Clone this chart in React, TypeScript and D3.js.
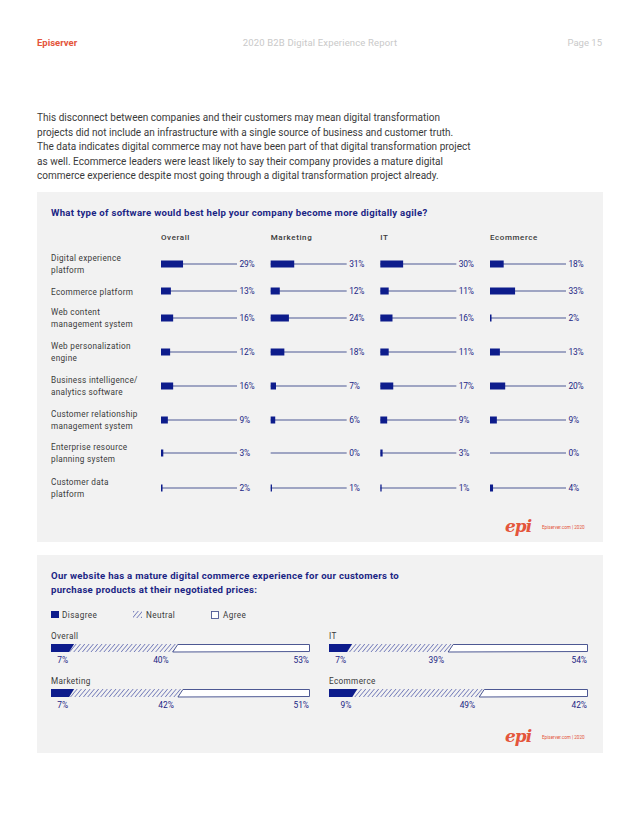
import React from "react";
import * as d3 from "d3";

// ---------- DATA ----------
const categories = [
  "Digital experience\nplatform",
  "Ecommerce platform",
  "Web content\nmanagement system",
  "Web personalization\nengine",
  "Business intelligence/\nanalytics software",
  "Customer relationship\nmanagement system",
  "Enterprise resource\nplanning system",
  "Customer data\nplatform",
];
const segments = ["Overall", "Marketing", "IT", "Ecommerce"];
const overallValues = [29, 13, 16, 12, 16, 9, 3, 2];
const marketingValues = [31, 12, 24, 18, 7, 6, 0, 1];
const itValues = [30, 11, 16, 11, 17, 9, 3, 1];
const ecommerceValues = [18, 33, 2, 13, 20, 9, 0, 4];
const seriesValues = [overallValues, marketingValues, itValues, ecommerceValues];

const matureGroups = ["Overall", "IT", "Marketing", "Ecommerce"];
const disagreeValues = [7, 7, 7, 9];
const neutralValues = [40, 39, 42, 49];
const agreeValues = [53, 54, 51, 42];
const legendLabels = ["Disagree", "Neutral", "Agree"];

const paragraph = [
  "This disconnect between companies and their customers may mean digital transformation",
  "projects did not include an infrastructure with a single source of business and customer truth.",
  "The data indicates digital commerce may not have been part of that digital transformation project",
  "as well. Ecommerce leaders were least likely to say their company provides a mature digital",
  "commerce experience despite most going through a digital transformation project already.",
];

// ---------- STYLE ----------
const NAVY = "#0d1c8c";
const NAVY_TEXT = "#1b2584";
const LINE = "#4d5893";
const GRAY_TEXT = "#3a3a3a";
const PANEL = "#f2f2f2";
const RED = "#e4553b";
const FONT = "Roboto, 'Noto Sans', sans-serif";

function Logo({ x, y }: { x: number; y: number }) {
  return (
    <g>
      <text x={x} y={y + 5} fontFamily="'DejaVu Serif', serif" fontStyle="italic" fontWeight={700} fontSize={17} fill={RED} letterSpacing={-1}>
        epi
      </text>
      <text x={x + 37} y={y + 2} fontFamily={FONT} fontSize={4.6} fill={RED}>
        Episerver.com  |  2020
      </text>
    </g>
  );
}

export default function App() {
  // row layout (panel 1)
  const rowGaps = [0, 27, 27, 34, 34, 34, 33, 35];
  const rowY = d3.cumsum(rowGaps).map((g) => 264 + g);
  const colX = d3.scalePoint<string>().domain(segments).range([161, 490]);
  const barW = d3.scaleLinear().domain([0, 100]).range([0, 76]);
  const barH = 7;

  // panel 2 layout
  const stackW = 259;
  const stackX = d3.scaleLinear().domain([0, 100]).range([0, stackW]);
  const groupPos: Record<string, { x: number; y: number }> = {
    Overall: { x: 51, y: 644 },
    IT: { x: 329, y: 644 },
    Marketing: { x: 51, y: 689 },
    Ecommerce: { x: 329, y: 689 },
  };
  const stackH = 8;
  const slant = 5;

  return (
    <svg width={640} height={828} style={{ position: "absolute", left: 0, top: 0, background: "#fff" }} fontFamily={FONT}>
      <defs>
        <pattern id="hatch" patternUnits="userSpaceOnUse" width={3.3} height={3.3} patternTransform="rotate(40)">
          <line x1={0} y1={0} x2={0} y2={3.3} stroke={NAVY} strokeWidth={0.9} />
        </pattern>
      </defs>
      <rect x={0} y={0} width={640} height={828} fill="#fff" />

      {/* header */}
      <text x={37} y={46} fontSize={9.5} fontWeight={700} fill={RED}>Episerver</text>
      <text x={320} y={46} fontSize={9.5} fill="#c9c9c9" textAnchor="middle" letterSpacing={0.15}>2020 B2B Digital Experience Report</text>
      <text x={602} y={46} fontSize={9.5} fill="#c9c9c9" textAnchor="end">Page 15</text>

      {/* paragraph */}
      {paragraph.map((line, i) => (
        <text key={i} x={37} y={121 + i * 14.5} fontSize={10} fill={GRAY_TEXT} letterSpacing={0.02}>{line}</text>
      ))}

      {/* panel 1 */}
      <rect x={37} y={192} width={566} height={350} fill={PANEL} />
      <text x={51} y={215.5} fontSize={9.6} fontWeight={700} fill={NAVY_TEXT} letterSpacing={0.28}>
        What type of software would best help your company become more digitally agile?
      </text>
      {segments.map((s) => (
        <text key={s} x={colX(s)!} y={240} fontSize={8} fontWeight={500} fill={GRAY_TEXT} letterSpacing={0.6}>{s}</text>
      ))}
      {categories.map((c, i) => {
        const lines = c.split("\n");
        const y = rowY[i];
        return (
          <g key={c}>
            {lines.length === 1 ? (
              <text x={51} y={y + 3.5} fontSize={8.2} fill={GRAY_TEXT} letterSpacing={0.3}>{lines[0]}</text>
            ) : (
              lines.map((l, k) => (
                <text key={k} x={51} y={y - 3 + k * 12} fontSize={8.2} fill={GRAY_TEXT} letterSpacing={0.3}>{l}</text>
              ))
            )}
            {segments.map((s, j) => {
              const v = seriesValues[j][i];
              const x0 = colX(s)!;
              return (
                <g key={s}>
                  <line x1={x0} x2={x0 + barW(100)} y1={y} y2={y} stroke={LINE} strokeWidth={1.1} />
                  {v > 0 && (
                    <rect x={x0} y={y - barH / 2} width={Math.max(barW(v), 1.3)} height={barH} fill={NAVY} />
                  )}
                  <text x={x0 + barW(100) + 2.5} y={y + 3.3} fontSize={8.4} fill={NAVY_TEXT} letterSpacing={-0.2}>{v}%</text>
                </g>
              );
            })}
          </g>
        );
      })}
      <Logo x={505} y={527} />

      {/* panel 2 */}
      <rect x={37} y={555} width={566} height={198} fill={PANEL} />
      <text x={51} y={579} fontSize={9.6} fontWeight={700} fill={NAVY_TEXT} letterSpacing={0.28}>
        Our website has a mature digital commerce experience for our customers to
      </text>
      <text x={51} y={593} fontSize={9.6} fontWeight={700} fill={NAVY_TEXT} letterSpacing={0.28}>
        purchase products at their negotiated prices:
      </text>

      {/* legend */}
      <rect x={51} y={611} width={8} height={7} fill={NAVY} />
      <text x={62} y={618} fontSize={8.2} fill={GRAY_TEXT} letterSpacing={0.4}>{legendLabels[0]}</text>
      <rect x={133} y={611} width={9} height={7} fill="url(#hatch)" />
      <text x={146} y={618} fontSize={8.2} fill={GRAY_TEXT} letterSpacing={0.4}>{legendLabels[1]}</text>
      <rect x={211.5} y={611.5} width={7} height={7} fill="#fff" stroke={LINE} strokeWidth={0.9} />
      <text x={223} y={618} fontSize={8.2} fill={GRAY_TEXT} letterSpacing={0.4}>{legendLabels[2]}</text>

      {matureGroups.map((g, i) => {
        const { x, y } = groupPos[g];
        const d = stackX(disagreeValues[i]);
        const n = stackX(disagreeValues[i] + neutralValues[i]);
        const end = stackX(disagreeValues[i] + neutralValues[i] + agreeValues[i]);
        const para = (a: number, b: number, sa: number, sb: number) =>
          `M${x + a},${y + stackH} L${x + a + sa},${y} L${x + b + sb},${y} L${x + b},${y + stackH} Z`;
        return (
          <g key={g}>
            <text x={x} y={y - 5} fontSize={8.2} fill={GRAY_TEXT} letterSpacing={0.35}>{g}</text>
            <path
              d={`M${x + n},${y + stackH} L${x + n + slant},${y + 0.5} L${x + end - 0.5},${y + 0.5} L${x + end - 0.5},${y + stackH - 0.5} Z`}
              fill="#fff"
              stroke={LINE}
              strokeWidth={1}
            />
            <path d={para(d, n, slant, slant)} fill="url(#hatch)" />
            <path d={`M${x},${y + stackH} L${x},${y} L${x + d + slant},${y} L${x + d},${y + stackH} Z`} fill={NAVY} />
            <text x={x + d - 1} y={y + 19} fontSize={8.4} fill={NAVY_TEXT} textAnchor="end">{disagreeValues[i]}%</text>
            <text x={x + n - 4} y={y + 19} fontSize={8.4} fill={NAVY_TEXT} textAnchor="end">{neutralValues[i]}%</text>
            <text x={x + end - 1} y={y + 19} fontSize={8.4} fill={NAVY_TEXT} textAnchor="end">{agreeValues[i]}%</text>
          </g>
        );
      })}
      <Logo x={505} y={737} />
    </svg>
  );
}
